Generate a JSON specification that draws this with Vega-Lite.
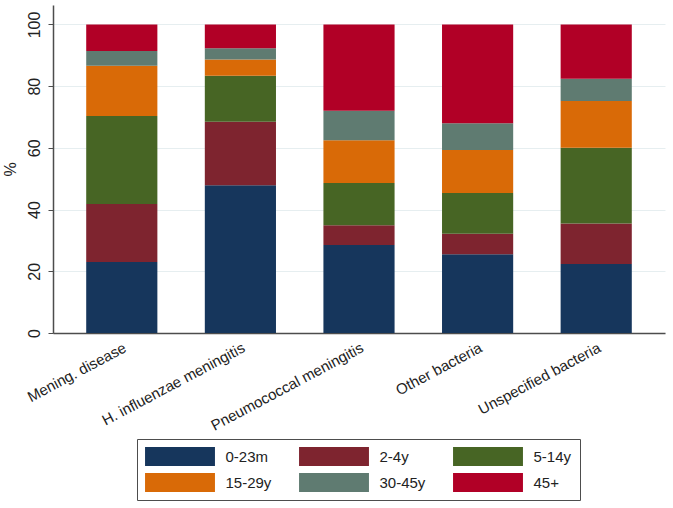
{
  "$schema": "https://vega.github.io/schema/vega-lite/v6.json",
  "width": 612,
  "height": 328,
  "autosize": {"type": "none"},
  "padding": {"left": 53, "top": 5, "right": 8, "bottom": 175},
  "background": "white",
  "config": {"view": {"stroke": null}, "font": "Liberation Sans"},
  "data": {
    "values": [
      {"cause": "Mening. disease", "age": "0-23m", "k": 1, "pct": 23.0},
      {"cause": "Mening. disease", "age": "2-4y", "k": 2, "pct": 18.8},
      {"cause": "Mening. disease", "age": "5-14y", "k": 3, "pct": 28.5},
      {"cause": "Mening. disease", "age": "15-29y", "k": 4, "pct": 16.3},
      {"cause": "Mening. disease", "age": "30-45y", "k": 5, "pct": 4.8},
      {"cause": "Mening. disease", "age": "45+", "k": 6, "pct": 8.6},
      {"cause": "H. influenzae meningitis", "age": "0-23m", "k": 1, "pct": 47.9},
      {"cause": "H. influenzae meningitis", "age": "2-4y", "k": 2, "pct": 20.6},
      {"cause": "H. influenzae meningitis", "age": "5-14y", "k": 3, "pct": 14.9},
      {"cause": "H. influenzae meningitis", "age": "15-29y", "k": 4, "pct": 5.2},
      {"cause": "H. influenzae meningitis", "age": "30-45y", "k": 5, "pct": 3.7},
      {"cause": "H. influenzae meningitis", "age": "45+", "k": 6, "pct": 7.7},
      {"cause": "Pneumococcal meningitis", "age": "0-23m", "k": 1, "pct": 28.5},
      {"cause": "Pneumococcal meningitis", "age": "2-4y", "k": 2, "pct": 6.4},
      {"cause": "Pneumococcal meningitis", "age": "5-14y", "k": 3, "pct": 13.7},
      {"cause": "Pneumococcal meningitis", "age": "15-29y", "k": 4, "pct": 13.9},
      {"cause": "Pneumococcal meningitis", "age": "30-45y", "k": 5, "pct": 9.5},
      {"cause": "Pneumococcal meningitis", "age": "45+", "k": 6, "pct": 28.0},
      {"cause": "Other bacteria", "age": "0-23m", "k": 1, "pct": 25.5},
      {"cause": "Other bacteria", "age": "2-4y", "k": 2, "pct": 6.7},
      {"cause": "Other bacteria", "age": "5-14y", "k": 3, "pct": 13.2},
      {"cause": "Other bacteria", "age": "15-29y", "k": 4, "pct": 13.9},
      {"cause": "Other bacteria", "age": "30-45y", "k": 5, "pct": 8.7},
      {"cause": "Other bacteria", "age": "45+", "k": 6, "pct": 32.0},
      {"cause": "Unspecified bacteria", "age": "0-23m", "k": 1, "pct": 22.4},
      {"cause": "Unspecified bacteria", "age": "2-4y", "k": 2, "pct": 13.1},
      {"cause": "Unspecified bacteria", "age": "5-14y", "k": 3, "pct": 24.5},
      {"cause": "Unspecified bacteria", "age": "15-29y", "k": 4, "pct": 15.2},
      {"cause": "Unspecified bacteria", "age": "30-45y", "k": 5, "pct": 7.2},
      {"cause": "Unspecified bacteria", "age": "45+", "k": 6, "pct": 17.6}
    ]
  },
  "mark": {"type": "bar"},
  "encoding": {
    "x": {
      "field": "cause",
      "type": "nominal",
      "sort": ["Mening. disease", "H. influenzae meningitis", "Pneumococcal meningitis", "Other bacteria", "Unspecified bacteria"],
      "scale": {"paddingInner": 0.4, "paddingOuter": 0.28},
      "axis": {
        "title": null,
        "labelAngle": -28,
        "labelAlign": "right",
        "labelBaseline": "top",
        "labelFontSize": 15,
        "labelColor": "#222",
        "labelPadding": 7,
        "ticks": false,
        "domainColor": "#4d4d4d",
        "domainWidth": 1.5,
        "grid": false
      }
    },
    "y": {
      "field": "pct",
      "type": "quantitative",
      "stack": "zero",
      "scale": {"domain": [0, 106.3], "nice": false},
      "axis": {
        "values": [0, 20, 40, 60, 80, 100],
        "title": "%",
        "titleFontSize": 16,
        "titleFontWeight": "normal",
        "titleColor": "#222",
        "titlePadding": 8,
        "labelAngle": -90,
        "labelAlign": "center",
        "labelBaseline": "bottom",
        "labelFontSize": 16,
        "labelColor": "#222",
        "labelPadding": 6,
        "tickSize": 5,
        "tickColor": "#4d4d4d",
        "domainColor": "#4d4d4d",
        "domainWidth": 1.5,
        "grid": true,
        "gridColor": "#e6eef0",
        "gridWidth": 1
      }
    },
    "color": {
      "field": "age",
      "type": "nominal",
      "sort": ["0-23m", "2-4y", "5-14y", "15-29y", "30-45y", "45+"],
      "scale": {
        "domain": ["0-23m", "2-4y", "5-14y", "15-29y", "30-45y", "45+"],
        "range": ["#16365c", "#7e242f", "#476524", "#d96a07", "#5f7b71", "#b10026"]
      },
      "legend": {
        "title": null,
        "orient": "none",
        "legendX": 84,
        "legendY": 434,
        "direction": "horizontal",
        "columns": 3,
        "gridAlign": "all",
        "columnPadding": 27,
        "rowPadding": 7,
        "padding": 8,
        "strokeColor": "#4d4d4d",
        "fillColor": "white",
        "symbolType": "M-3.68,-1H3.68V1H-3.68Z",
        "symbolSize": 361,
        "symbolOffset": 25.5,
        "symbolStrokeWidth": 0,
        "symbolOpacity": 1,
        "labelFontSize": 15,
        "labelColor": "#222",
        "labelOffset": 36
      }
    },
    "order": {"field": "k", "type": "quantitative"}
  }
}
